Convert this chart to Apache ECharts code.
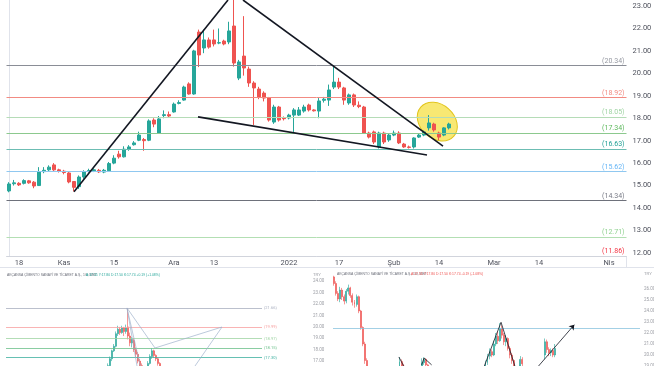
<!DOCTYPE html>
<html><head><meta charset="utf-8">
<script src="https://cdn.jsdelivr.net/npm/echarts@6/dist/echarts.min.js"></script>
<style>html,body{margin:0;padding:0;background:#fff}#c{width:654px;height:366px}</style>
</head><body><div id="c"></div>
<script>
// ---------- main chart data ----------
const startDate = '2021-10-14';
const totalBars = 124;
const holidays = ['2021-10-29'];
const tickLabels = {
  '2021-10-18':'18','2021-11-01':'Kas','2021-11-15':'15','2021-12-01':'Ara','2021-12-13':'13',
  '2022-01-03':'2022','2022-01-17':'17','2022-02-01':'Şub','2022-02-14':'14','2022-03-01':'Mar',
  '2022-03-14':'14','2022-04-01':'Nis'
};
// [open, close, low, high]
const candles = [
[14.76,15.07,14.70,15.15],[15.08,15.12,15.00,15.25],[15.10,15.03,14.98,15.15],[15.10,15.22,15.05,15.28],
[15.21,15.12,15.08,15.25],[15.15,14.98,14.88,15.20],[15.00,15.60,14.98,15.82],[15.62,15.68,15.55,15.82],
[15.70,15.82,15.65,15.90],[15.92,15.70,15.65,16.00],[15.70,15.64,15.58,15.75],[15.64,15.58,15.50,15.70],
[15.56,15.16,15.10,15.60],[15.18,14.92,14.74,15.20],[14.95,15.38,14.85,15.45],[15.38,15.62,15.30,15.68],
[15.64,15.67,15.58,15.75],[15.66,15.70,15.60,15.76],[15.68,15.61,15.56,15.74],[15.60,15.68,15.55,15.74],
[15.66,15.98,15.62,16.05],[16.00,16.22,15.95,16.35],[16.40,16.28,16.20,16.55],[16.28,16.62,16.25,16.75],
[16.62,16.72,16.55,16.80],[16.82,16.90,16.78,16.98],[17.02,17.25,16.98,17.40],[17.05,17.00,16.55,17.12],
[17.02,17.88,16.98,17.95],[17.92,17.74,17.60,18.00],[17.34,17.97,17.30,18.10],[18.12,18.16,18.00,18.35],
[18.16,18.10,18.05,18.30],[18.28,18.63,18.25,18.70],[18.66,18.70,18.62,18.80],[18.81,19.39,18.78,19.45],
[19.53,19.08,19.05,19.60],[19.08,21.00,19.05,21.05],[21.84,20.82,20.28,21.95],[21.13,21.49,20.90,21.95],
[21.49,21.17,21.10,21.60],[21.49,21.31,21.20,21.95],[21.35,21.37,21.30,22.00],[21.44,21.31,21.25,21.50],
[21.40,21.89,21.30,22.30],[22.11,20.46,20.30,23.30],[19.79,20.51,19.70,20.60],[20.77,20.24,19.90,22.55],
[20.19,19.57,19.40,20.30],[19.57,19.35,17.70,19.65],[19.30,18.95,18.85,19.40],[19.12,18.90,18.75,19.20],
[18.90,17.92,17.85,18.95],[17.83,18.50,17.75,18.60],[18.50,17.92,17.85,18.55],[18.01,17.98,17.90,18.08],
[18.01,18.14,17.95,18.20],[18.14,18.37,17.39,18.45],[18.14,18.37,18.10,18.50],[18.32,18.50,18.25,18.60],
[18.59,18.37,18.30,18.65],[18.37,18.33,18.30,18.40],[18.32,18.77,18.00,18.90],[18.80,18.85,18.70,18.95],
[18.81,19.26,18.55,19.50],[19.39,19.61,19.30,20.34],[19.61,19.39,19.30,19.80],[19.35,18.81,18.60,19.40],
[18.68,19.04,18.60,19.10],[19.04,18.59,18.50,19.10],[18.58,18.52,18.45,18.75],[18.50,17.34,17.30,18.55],
[17.34,17.16,17.10,17.40],[17.39,16.94,16.85,17.45],[16.72,17.34,16.65,17.40],[17.34,16.94,16.85,17.40],
[17.03,17.25,16.95,17.30],[17.25,17.34,17.20,17.45],[17.34,16.90,16.85,17.42],[16.85,16.72,16.68,16.90],
[16.72,16.70,16.65,16.78],[16.72,17.12,16.65,17.15],[17.16,17.25,17.12,17.30],[17.25,17.39,17.20,17.45],
[17.57,17.79,17.45,18.14],[17.74,17.48,17.40,17.80],[17.34,17.16,17.03,17.40],[17.25,17.57,17.20,17.60],
[17.57,17.74,17.50,17.80]
];
const fibLevels = [20.34, 18.92, 18.05, 17.34, 16.63, 15.62, 14.34, 12.71, 11.86];
const fibColors = ['#9598a1','#f28b82','#9fd4a3','#5cb85c','#22a095','#64b5f6','#787b86','#8fd18f','#f23645'];
const fibLineColors = ['#8a8d96','#f28b82','#b5dcb7','#8cc98e','#6cbdb3','#90c8f0','#6e717b','#b3dfb3','#d1d4dc'];
const trendUp = [[13, 14.72],[43.8, 23.27]];
const trendDown = [[46.8, 23.27],[86.8, 16.76]];
const trendLow = [[37.8, 18.06],[83.6, 16.36]];
const highlight = [[85.66, 17.85, 4.4, 0.76]]; // centre idx, centre price, x radius (bars), y radius (price)

// ---------- lower-left panel data ----------
const leftStart = 50;
const leftCandles = [
[15.5,16.0,15.3,16.2],[16.0,16.6,15.9,16.8],[16.6,17.2,16.5,17.4],[17.2,17.9,17.0,18.0],[17.9,18.3,17.8,18.5],
[18.3,19.4,18.2,19.6],[19.4,19.8,19.2,20.1],[19.8,19.5,19.3,20.0],[19.5,19.9,19.4,20.1],[19.9,19.6,19.2,20.0],
[19.6,19.9,19.4,20.2],[20.0,19.2,18.9,21.66],[19.2,18.6,18.3,19.5],[18.6,18.9,18.2,19.1],[18.8,18.0,17.8,19.0],
[18.0,17.6,17.3,18.2],[17.6,17.0,16.8,17.8],[17.0,16.6,16.3,17.2],[16.6,16.2,15.9,16.8],[16.2,16.0,15.7,16.4],
[16.0,16.3,15.8,16.5],[16.3,16.8,16.1,17.0],[16.8,17.4,16.7,17.6],[17.4,17.9,17.2,18.15],[17.9,17.5,17.3,18.0],
[17.5,17.2,17.0,17.6],[17.2,16.8,16.6,17.3],[16.8,16.4,16.2,16.9],[16.4,16.1,15.9,16.5]
];
const leftLevels = [21.66, 19.99, 18.97, 18.15, 17.30];
const leftLevelColors = ['#aab0c0','#f7a1a1','#9fd4a3','#6cc08a','#3fb0a0'];
const leftPattern = [[65.5,16.57],[60.5,21.66],[74.5,18.15],[108,19.99],[94.5,16.57]];
const leftPattern2 = [[60.5,21.66],[67.5,16.3]];

// ---------- lower-right panel data ----------
const rightCandles = {
 0:[27.1,26.5,26.3,27.2],1:[26.5,25.6,25.4,26.7],2:[25.6,25.1,24.9,25.8],3:[25.1,25.9,24.8,26.2],4:[25.9,25.3,25.0,26.1],
 5:[25.3,24.9,24.6,25.5],6:[24.9,25.8,24.7,26.0],7:[25.8,26.1,25.5,26.4],8:[26.1,25.4,25.2,26.2],9:[25.4,24.8,24.5,25.6],
 10:[24.8,24.6,24.3,25.0],11:[24.6,25.3,24.4,25.5],12:[25.3,24.0,23.8,25.4],13:[24.0,22.5,22.3,24.1],14:[22.5,21.0,20.8,22.6],
 15:[21.0,19.5,19.2,21.2],16:[19.5,18.6,18.3,19.7],17:[18.6,18.2,17.8,18.8],
 32:[18.8,19.4,18.6,19.8],33:[19.4,19.0,18.8,19.6],34:[19.0,18.6,18.4,19.2],
 43:[18.8,19.3,18.7,19.7],44:[19.3,19.6,19.1,19.8],45:[19.6,19.1,18.9,19.7],46:[19.1,18.7,18.5,19.2],
 74:[18.8,19.3,18.6,19.5],75:[19.3,19.9,19.1,20.1],76:[19.9,20.3,19.6,20.6],77:[20.3,20.0,19.8,20.5],78:[20.0,21.0,19.9,21.3],
 79:[21.0,21.7,20.8,22.0],80:[21.7,21.3,21.0,22.1],81:[21.3,22.4,21.2,22.9],82:[22.4,21.8,21.5,22.7],83:[21.8,21.2,20.9,22.0],
 84:[21.2,21.5,20.8,21.8],85:[21.5,20.6,20.4,21.6],86:[20.6,20.0,19.7,20.8],87:[20.0,19.5,19.2,20.2],88:[19.5,19.0,18.7,19.6],
 91:[19.0,19.6,18.8,19.9],92:[19.6,19.2,18.9,19.8],
 103:[20.0,21.2,19.6,21.5],104:[21.2,20.5,20.2,21.4],105:[20.5,20.2,19.9,20.7],106:[20.2,20.4,19.9,20.6],107:[20.4,20.0,19.8,20.6],108:[20.0,20.6,19.8,21.0]
};
const rightLevel = 22.45;
const rightZig1 = [[31.7,19.82],[34.0,19.0]];
const rightZig2 = [[42.8,19.1],[44,19.73],[47.7,19.1]];
const rightBig = [[73.4,18.97],[81.6,22.97],[88.4,18.97]];
const rightArrow = [[99.8,18.97],[117.4,22.75]];

// ---------- build ----------
const dates = [];
(function(){
  const d = new Date(startDate + 'T00:00:00Z');
  while (dates.length < totalBars) {
    const s = d.toISOString().slice(0,10);
    const wd = d.getUTCDay();
    if (wd !== 0 && wd !== 6 && holidays.indexOf(s) < 0) dates.push(s);
    d.setUTCDate(d.getUTCDate() + 1);
  }
})();
const subCats = Array.from({length:150}, (_, k) => 'b' + k);
const leftData = subCats.map((_, k) => (k >= leftStart && k < leftStart + leftCandles.length) ? leftCandles[k - leftStart] : '-');
const rightData = subCats.map((_, k) => rightCandles[k] || '-');

const UP = '#26a69a', DOWN = '#ef5350';
const candleStyle = {color: UP, color0: DOWN, borderColor: UP, borderColor0: DOWN, borderWidth: 1};
const lineSeries = (data, xi, yi, color, w) => ({
  type:'line', data, xAxisIndex:xi, yAxisIndex:yi, symbol:'none', silent:true, animation:false,
  lineStyle:{color, width:w}, z:5
});

const chart = echarts.init(document.getElementById('c'), null, {renderer:'canvas'});
const option = {
  animation:false,
  backgroundColor:'#ffffff',
  textStyle:{fontFamily:'Roboto, "Noto Sans", sans-serif'},
  grid:[
    {left:6.5, top:0, width:620, height:256, outerBoundsMode:'none', containLabel:false},
    {left:5, top:269.9, width:300, height:136.8, outerBoundsMode:'none', containLabel:false},
    {left:333, top:267, width:307, height:132, outerBoundsMode:'none', containLabel:false}
  ],
  xAxis:[
    {type:'category', gridIndex:0, data:dates, boundaryGap:true,
     axisLine:{show:true, lineStyle:{color:'#dcdfe6'}}, axisTick:{show:false},
     axisLabel:{interval:0, formatter:v => tickLabels[v] || '', color:'#50535e', fontSize:7.5, margin:3},
     splitLine:{show:false}},
    {type:'value', gridIndex:0, min:-0.5, max:totalBars - 0.5, show:false},
    {type:'category', gridIndex:1, data:subCats, show:false},
    {type:'value', gridIndex:1, min:-0.5, max:149.5, show:false},
    {type:'category', gridIndex:2, data:subCats, show:false},
    {type:'value', gridIndex:2, min:-0.5, max:149.5, show:false}
  ],
  yAxis:[
    {type:'value', gridIndex:0, position:'right', min:11.86, max:23.27, splitNumber:11,
     axisLine:{show:true, lineStyle:{color:'#e0e3eb'}}, axisTick:{show:false}, splitLine:{show:false},
     axisLabel:{showMinLabel:false, showMaxLabel:false, formatter:v => v.toFixed(2), color:'#50535e', fontSize:7.5, margin:6}},
    {type:'value', gridIndex:1, position:'right', min:13, max:25, interval:1,
     axisLine:{show:false}, axisTick:{show:false}, splitLine:{show:false},
     axisLabel:{showMaxLabel:false, formatter:v => v.toFixed(2), color:'#9a9ca3', fontSize:4.5, margin:8}},
    {type:'value', gridIndex:2, position:'right', min:16, max:28, interval:1,
     axisLine:{show:false}, axisTick:{show:false}, splitLine:{show:false},
     axisLabel:{formatter:v => v > 26 ? '' : v.toFixed(2), color:'#9a9ca3', fontSize:4.5, margin:4}}
  ],
  series:[
    {type:'custom', xAxisIndex:1, yAxisIndex:0, data:highlight, silent:true, z:1,
     renderItem:(params, api) => {
       const c = api.coord([api.value(0), api.value(1)]);
       const e = api.coord([api.value(0) + api.value(2), api.value(1) + api.value(3)]);
       return {type:'ellipse', x:c[0], y:c[1], rotation:-0.72,
               shape:{cx:0, cy:0, rx:Math.abs(e[0]-c[0]), ry:Math.abs(e[1]-c[1])},
               style:{fill:'rgba(247,228,90,0.85)', stroke:'#e2c51c', lineWidth:1}};
     }},
    {type:'candlestick', xAxisIndex:0, yAxisIndex:0, data:candles, barWidth:'62%', itemStyle:candleStyle, z:3,
     markLine:{symbol:'none', silent:true, animation:false,
       data: fibLevels.map((v, k) => ({yAxis:v,
         lineStyle:{color:fibLineColors[k], width:1, type:'solid'},
         label:{show:true, position:'insideEndTop', distance:[2,1], formatter:'(' + v.toFixed(2) + ')', color:fibColors[k], fontSize:7}}))}},
    lineSeries(trendUp, 1, 0, '#131722', 1.6),
    lineSeries(trendDown, 1, 0, '#131722', 1.6),
    lineSeries(trendLow, 1, 0, '#131722', 1.6),

    {type:'candlestick', xAxisIndex:2, yAxisIndex:1, data:leftData, barWidth:'70%', itemStyle:Object.assign({}, candleStyle, {borderWidth:0.6}), z:3,
     markLine:{symbol:'none', silent:true, animation:false,
       data: leftLevels.map((v, k) => ([
         {coord:[0, v], lineStyle:{color:leftLevelColors[k], width:0.8, type:'solid'},
          label:{show:true, position:'end', distance:2, formatter:'(' + v.toFixed(2) + ')', color:leftLevelColors[k], fontSize:4}},
         {coord:[128, v]}]))}},
    lineSeries(leftPattern, 3, 1, '#9fb2cc', 0.7),
    lineSeries(leftPattern2, 3, 1, '#9fb2cc', 0.7),

    {type:'candlestick', xAxisIndex:4, yAxisIndex:2, data:rightData, barWidth:'70%', itemStyle:Object.assign({}, candleStyle, {borderWidth:0.6}), z:3,
     markLine:{symbol:'none', silent:true, animation:false,
       data:[{yAxis:rightLevel, lineStyle:{color:'#8cc4de', width:0.8, type:'solid'}, label:{show:false}}]}},
    lineSeries(rightZig1, 5, 2, '#131722', 0.8),
    lineSeries(rightZig2, 5, 2, '#131722', 0.8),
    lineSeries(rightBig, 5, 2, '#131722', 0.8),
    {type:'lines', coordinateSystem:'cartesian2d', xAxisIndex:5, yAxisIndex:2, silent:true, z:6,
     data:[{coords:rightArrow}], symbol:['none','arrow'], symbolSize:5,
     lineStyle:{color:'#131722', width:0.8, opacity:1}}
  ],
  graphic:[
    {type:'line', shape:{x1:0, y1:267.5, x2:654, y2:267.5}, style:{stroke:'#e0e3eb', lineWidth:1}, silent:true},
    {type:'line', shape:{x1:626.5, y1:256, x2:626.5, y2:267.5}, style:{stroke:'#e0e3eb', lineWidth:1}, silent:true},
    {type:'text', x:7, y:274, silent:true, style:{text:'AKÇANSA ÇİMENTO SANAYİ VE TİCARET A.Ş., 1G, BIST', fontSize:3.4, fill:'#6a6d78'}},
    {type:'text', x:86, y:274, silent:true, style:{text:'A:17.55 Y:17.80 D:17.50 K:17.74 +0.19 (+1.08%)', fontSize:3.4, fill:'#26a69a'}},
    {type:'text', x:313, y:272.5, silent:true, style:{text:'TRY', fontSize:4, fill:'#9a9ca3'}},
    {type:'text', x:337, y:273, silent:true, style:{text:'AKÇANSA ÇİMENTO SANAYİ VE TİCARET A.Ş., 1G, BIST', fontSize:3.4, fill:'#6a6d78'}},
    {type:'text', x:411, y:273, silent:true, style:{text:'A:17.55 Y:17.80 D:17.50 K:17.74 -0.19 (-1.08%)', fontSize:3.4, fill:'#ef5350'}},
    {type:'text', x:644, y:272, silent:true, style:{text:'TRY', fontSize:4, fill:'#9a9ca3'}}
  ]
};
chart.setOption(option);
</script></body></html>
